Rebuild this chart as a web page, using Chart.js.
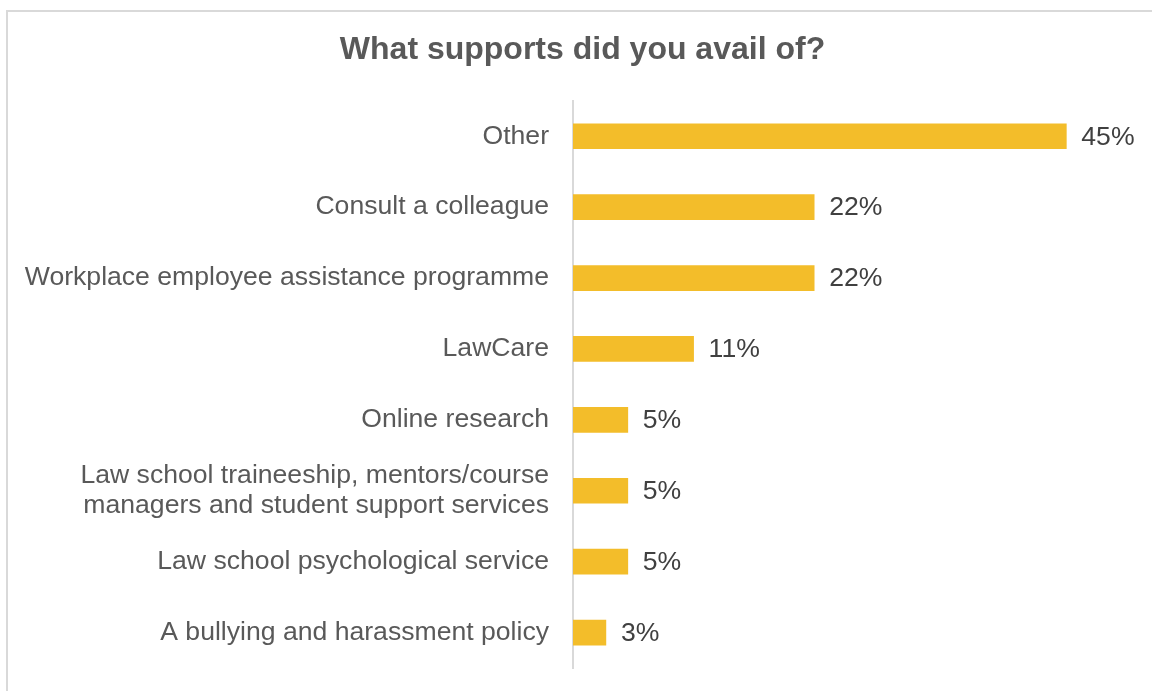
<!DOCTYPE html>
<html>
<head>
<meta charset="utf-8">
<script src="https://cdn.jsdelivr.net/npm/chart.js@4/dist/chart.umd.min.js"></script>
<style>
  html, body { margin: 0; padding: 0; background: #fff; overflow: hidden; }
  .frame {
    position: absolute; left: 6px; top: 10px;
    width: 1300px; height: 800px;
    border: 2px solid #d9d9d9; background: #fff;
  }
  .wrap { position: absolute; left: 0; top: 0; width: 1152px; height: 691px; overflow: hidden; }
</style>
</head>
<body>
<div class="frame"></div>
<div class="wrap"><canvas id="chart" width="1165" height="691"></canvas></div>
<script>
const supports = [
  'Other',
  'Consult a colleague',
  'Workplace employee assistance programme',
  'LawCare',
  'Online research',
  ['Law school traineeship, mentors/course', 'managers and student support services'],
  'Law school psychological service',
  'A bullying and harassment policy'
];
const sharePct = [45, 22, 22, 11, 5, 5, 5, 3];
const xMax = 54;

const gold = '#f3bd2a';
const labelGrey = '#595959';
const valueGrey = '#404040';
const fontFamily = '"Liberation Sans", Arial, sans-serif';

// percent labels just past the end of each bar
const valueLabels = {
  id: 'valueLabels',
  afterDatasetsDraw(chart) {
    const ctx = chart.ctx;
    const meta = chart.getDatasetMeta(0);
    ctx.save();
    ctx.font = '26.6px ' + fontFamily;
    ctx.fillStyle = valueGrey;
    ctx.textAlign = 'left';
    ctx.textBaseline = 'middle';
    meta.data.forEach((bar, i) => {
      ctx.fillText(sharePct[i] + '%', bar.x + 15, bar.y + 1);
    });
    ctx.restore();
  }
};

new Chart(document.getElementById('chart'), {
  type: 'bar',
  data: {
    labels: supports,
    datasets: [{
      data: sharePct,
      backgroundColor: gold,
      barThickness: 25
    }]
  },
  options: {
    indexAxis: 'y',
    responsive: false,
    animation: false,
    layout: { padding: { left: 0, right: 0, top: 0, bottom: 23 } },
    plugins: {
      legend: { display: false },
      tooltip: { enabled: false },
      title: {
        display: true,
        text: 'What supports did you avail of?',
        color: labelGrey,
        font: { family: fontFamily, size: 32, weight: 'bold', lineHeight: 1.15 },
        padding: { top: 32, bottom: 32 }
      }
    },
    scales: {
      x: {
        display: false,
        min: 0,
        max: xMax
      },
      y: {
        afterFit(scale) {
          scale.width = 573;
          // no extra room for half-label overhang at the ends
          scale.paddingTop = 0;
          scale.paddingBottom = 0;
        },
        grid: { display: false, drawTicks: false },
        border: { display: true, color: '#d9d9d9', width: 2 },
        ticks: {
          color: labelGrey,
          padding: 24,
          font: { family: fontFamily, size: 26.6, lineHeight: 1.15 }
        }
      }
    }
  },
  plugins: [valueLabels]
});
</script>
</body>
</html>
